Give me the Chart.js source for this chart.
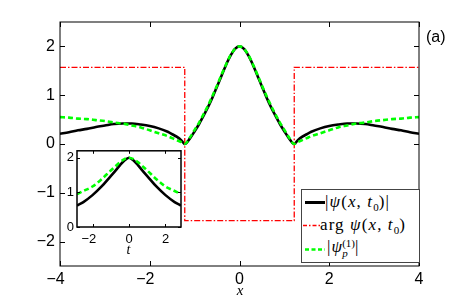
<!DOCTYPE html>
<html><head><meta charset="utf-8">
<script src="https://cdn.jsdelivr.net/npm/chart.js@4.4.1/dist/chart.umd.min.js"></script>
<style>
html,body{margin:0;padding:0;background:#fff;}
#wrap{position:relative;width:463px;height:299px;overflow:hidden;background:#fff;}
#main{position:absolute;left:0;top:0;width:463px;height:299px;}
#inset{position:absolute;left:50px;top:140px;width:140px;height:120px;}
.lbl{position:absolute;white-space:nowrap;color:#000;}
.c{transform:translate(-50%,-50%);}
.serif{font-family:"Liberation Serif","Times New Roman",serif;}
#legend{position:absolute;left:301px;top:189px;width:117px;height:72px;border:1px solid #444;background:#fff;}
.row{position:absolute;font-family:"Liberation Serif",serif;font-size:17px;line-height:18px;letter-spacing:1.1px;}
.row sub{font-size:11px;vertical-align:-4px;line-height:0;letter-spacing:0;}
.ss{display:inline-block;vertical-align:middle;line-height:10px;font-size:11px;text-align:left;margin-left:-1px;letter-spacing:0;}
.ss span{display:block;}
</style></head><body>
<div id="wrap">
<canvas id="main" width="463" height="299"></canvas>
<canvas id="inset" width="140" height="120"></canvas>
<div class="lbl c serif" style="left:240px;top:290px;font-size:15px;font-style:italic;">x</div>
<div class="lbl c serif" style="left:128.5px;top:250px;font-size:14px;font-style:italic;">t</div>
<div class="lbl" style="left:426px;top:28px;font-family:'Liberation Sans',Arial,sans-serif;font-size:16px;line-height:18px;">(a)</div>
<div id="legend"></div>
<svg style="position:absolute;left:0;top:0;" width="463" height="299">
  <line x1="305" y1="202.5" x2="325" y2="202.5" stroke="#000" stroke-width="3"/>
  <line x1="303" y1="225.5" x2="321" y2="225.5" stroke="#ff0000" stroke-width="1.3" stroke-dasharray="4 2 1.5 2"/>
  <line x1="305" y1="249.5" x2="325" y2="249.5" stroke="#00ff00" stroke-width="2.5" stroke-dasharray="4 2.5"/>
</svg>
<div class="row" style="left:325px;top:193px;">|<i>ψ</i>(<i>x</i>, <i>t</i><sub>0</sub>)|</div>
<div class="row" style="left:320px;top:216px;">arg <i>ψ</i>(<i>x</i>, <i>t</i><sub>0</sub>)</div>
<div class="row" style="left:327px;top:238px;">|<i>ψ</i><span class="ss"><span>(1)</span><span><i>p</i></span></span>|</div>
</div>
<script>
// ---- main panel data ----
const xMain = [-4,-3.8,-3.6,-3.4,-3.2,-3,-2.8,-2.6,-2.4,-2.2,-2,-1.8,-1.6,-1.5,-1.4,-1.3,-1.22,-1.1,-1,-0.9,-0.8,-0.7,-0.6,-0.5,-0.4,-0.3,-0.2,-0.1,0,
               0.1,0.2,0.3,0.4,0.5,0.6,0.7,0.8,0.9,1,1.1,1.22,1.3,1.4,1.5,1.6,1.8,2,2.2,2.4,2.6,2.8,3,3.2,3.4,3.6,3.8,4];
const absPsi = [0.21,0.24,0.28,0.31,0.35,0.38,0.41,0.42,0.42,0.40,0.37,0.32,0.25,0.20,0.15,0.08,0,0.12,0.26,0.41,0.58,0.76,0.96,1.18,1.40,1.62,1.81,1.95,2.00,
                1.95,1.81,1.62,1.40,1.18,0.96,0.76,0.58,0.41,0.26,0.12,0,0.08,0.15,0.20,0.25,0.32,0.37,0.40,0.42,0.42,0.41,0.38,0.35,0.31,0.28,0.24,0.21];
const absPsiP1 = [0.55,0.54,0.52,0.51,0.49,0.47,0.44,0.42,0.38,0.34,0.28,0.22,0.16,0.12,0.08,0.04,0,0.14,0.29,0.44,0.61,0.79,0.99,1.20,1.42,1.63,1.82,1.95,2.00,
                  1.95,1.82,1.63,1.42,1.20,0.99,0.79,0.61,0.44,0.29,0.14,0,0.04,0.08,0.12,0.16,0.22,0.28,0.34,0.38,0.42,0.44,0.47,0.49,0.51,0.52,0.54,0.55];
const xArg = [-4,-1.22,-1.22,1.22,1.22,4];
const argPsi = [1.5708,1.5708,-1.5708,-1.5708,1.5708,1.5708];
const xTicksMain = [-4,-2,0,2,4];
const yTicksMain = [-2,-1,0,1,2];
// ---- inset data ----
const tInset = [-2.85,-2.5,-2,-1.5,-1,-0.75,-0.5,-0.25,0,0.25,0.5,0.75,1,1.5,2,2.5,2.85];
const insetPsi = [0.62,0.72,0.92,1.17,1.47,1.62,1.78,1.92,2.00,1.92,1.78,1.62,1.47,1.17,0.92,0.72,0.62];
const insetP1 = [0.95,1.04,1.17,1.38,1.63,1.75,1.87,1.96,2.00,1.96,1.87,1.75,1.63,1.38,1.17,1.04,0.95];
const xTicksInset = [-2,0,2];
const yTicksInset = [0,1,2];

const pts = (xs, ys) => xs.map((x, i) => ({x: x, y: ys[i]}));
const fmt = v => v < 0 ? '\u2212' + Math.abs(v) + '\u2007' : String(v);
const fmtY = v => v < 0 ? '\u2212' + Math.abs(v) : String(v);

function framePlugin(tickLen, lw) {
  return {
    id: 'frame',
    beforeDatasetsDraw(chart) {
      const ca = chart.chartArea, ctx = chart.ctx;
      ctx.save();
      ctx.fillStyle = '#fff';
      ctx.fillRect(ca.left, ca.top, ca.right - ca.left, ca.bottom - ca.top);
      ctx.restore();
    },
    afterDatasetsDraw(chart) {
      const ca = chart.chartArea, ctx = chart.ctx;
      const xs = chart.scales.x, ys = chart.scales.y;
      ctx.save();
      ctx.strokeStyle = '#000';
      ctx.lineWidth = lw;
      ctx.strokeRect(ca.left, ca.top, ca.right - ca.left, ca.bottom - ca.top);
      ctx.lineWidth = 1;
      ctx.beginPath();
      xs.ticks.forEach(t => {
        const p = Math.round(xs.getPixelForValue(t.value)) + 0.5;
        ctx.moveTo(p, ca.bottom); ctx.lineTo(p, ca.bottom - tickLen);
        ctx.moveTo(p, ca.top); ctx.lineTo(p, ca.top + tickLen);
      });
      ys.ticks.forEach(t => {
        const p = Math.round(ys.getPixelForValue(t.value)) + 0.5;
        ctx.moveTo(ca.left, p); ctx.lineTo(ca.left + tickLen, p);
        ctx.moveTo(ca.right, p); ctx.lineTo(ca.right - tickLen, p);
      });
      ctx.stroke();
      ctx.restore();
    }
  };
}

const lineDs = (label, data, color, width, dash, order) => ({
  label: label, data: data, showLine: true, borderColor: color, backgroundColor: color,
  borderWidth: width, borderDash: dash, pointRadius: 0, fill: false,
  cubicInterpolationMode: 'monotone', order: order
});

const gridOff = {display: false, drawTicks: false};

new Chart(document.getElementById('main'), {
  type: 'scatter',
  data: {
    datasets: [
      lineDs('|ψ(x,t0)|', pts(xMain, absPsi), '#000000', 2.6, [], 3),
      lineDs('arg ψ(x,t0)', pts(xArg, argPsi), '#ff0000', 1.3, [6, 2, 1.5, 2], 2),
      lineDs('|ψp(1)|', pts(xMain, absPsiP1), '#00ff00', 2.6, [5, 3], 1)
    ]
  },
  options: {
    responsive: false, animation: false,
    layout: {padding: {left: 0, top: 22, right: 44, bottom: 0}},
    plugins: {legend: {display: false}, tooltip: {enabled: false}},
    scales: {
      x: {
        type: 'linear', min: -4, max: 4,
        afterBuildTicks: s => { s.ticks = xTicksMain.map(v => ({value: v})); },
        afterFit: s => { s.height = 33; },
        grid: gridOff, border: {display: false},
        ticks: {callback: v => fmt(v), color: '#000', padding: 4, maxRotation: 0,
                font: {family: "'Liberation Sans', Arial, sans-serif", size: 16}}
      },
      y: {
        type: 'linear', min: -2.5, max: 2.5,
        afterBuildTicks: s => { s.ticks = yTicksMain.map(v => ({value: v})); },
        afterFit: s => { s.width = 60; },
        grid: gridOff, border: {display: false},
        ticks: {callback: v => fmtY(v), color: '#000', padding: 5,
                font: {family: "'Liberation Sans', Arial, sans-serif", size: 16}}
      }
    }
  },
  plugins: [framePlugin(5, 1)]
});

new Chart(document.getElementById('inset'), {
  type: 'scatter',
  data: {
    datasets: [
      lineDs('|ψ(0,t)|', pts(tInset, insetPsi), '#000000', 2.6, [], 2),
      lineDs('|ψp(1)(0,t)|', pts(tInset, insetP1), '#00ff00', 2.6, [5, 3], 1)
    ]
  },
  options: {
    responsive: false, animation: false,
    layout: {padding: {left: 0, top: 8, right: 9, bottom: 0}},
    plugins: {legend: {display: false}, tooltip: {enabled: false}},
    scales: {
      x: {
        type: 'linear', min: -2.85, max: 2.85,
        afterBuildTicks: s => { s.ticks = xTicksInset.map(v => ({value: v})); },
        afterFit: s => { s.height = 33; },
        grid: gridOff, border: {display: false},
        ticks: {callback: v => fmt(v), color: '#000', padding: 5, maxRotation: 0,
                font: {family: "'Liberation Sans', Arial, sans-serif", size: 13}}
      },
      y: {
        type: 'linear', min: 0, max: 2.2,
        afterBuildTicks: s => { s.ticks = yTicksInset.map(v => ({value: v})); },
        afterFit: s => { s.width = 27; },
        grid: gridOff, border: {display: false},
        ticks: {callback: v => fmtY(v), color: '#000', padding: 3,
                font: {family: "'Liberation Sans', Arial, sans-serif", size: 13}}
      }
    }
  },
  plugins: [framePlugin(3, 1.5)]
});
</script>
</body></html>
